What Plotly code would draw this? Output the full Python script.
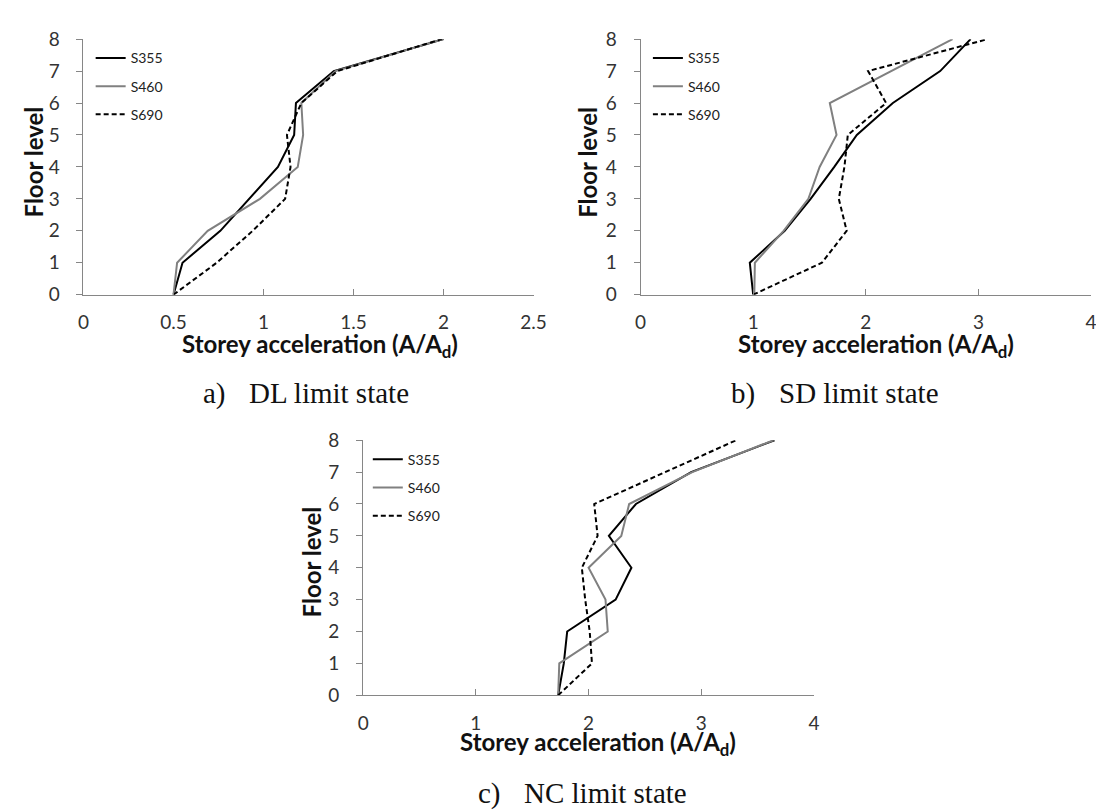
import plotly.graph_objects as go

floors = [0, 1, 2, 3, 4, 5, 6, 7, 8]
series_names = ["S355", "S460", "S690"]

# a) DL limit state
s355_dl = [0.50, 0.55, 0.76, 0.92, 1.08, 1.17, 1.18, 1.39, 2.00]
s460_dl = [0.50, 0.52, 0.69, 0.98, 1.19, 1.22, 1.21, 1.40, 2.00]
s690_dl = [0.50, 0.74, 0.94, 1.12, 1.15, 1.13, 1.21, 1.41, 1.99]
# b) SD limit state
s355_sd = [1.00, 0.97, 1.28, 1.51, 1.72, 1.92, 2.24, 2.66, 2.93]
s460_sd = [1.01, 1.015, 1.27, 1.49, 1.59, 1.74, 1.68, 2.22, 2.77]
s690_sd = [1.00, 1.61, 1.83, 1.76, 1.81, 1.84, 2.18, 2.02, 3.08]
# c) NC limit state
s355_nc = [1.73, 1.78, 1.81, 2.24, 2.38, 2.18, 2.42, 2.91, 3.65]
s460_nc = [1.73, 1.74, 2.17, 2.15, 2.00, 2.29, 2.36, 2.92, 3.64]
s690_nc = [1.73, 2.03, 2.01, 1.97, 1.94, 2.08, 2.05, 2.68, 3.31]

captions = [("a)", "DL limit state"), ("b)", "SD limit state"), ("c)", "NC limit state")]
x_title = "<b>Storey acceleration (A/A<sub>d</sub>)</b>"
y_title = "<b>Floor level</b>"

W, H = 1104, 811
def px(x): return x / W
def py(y): return 1 - y / H

styles = [dict(color="#000000", width=2),
          dict(color="#808080", width=2),
          dict(color="#000000", width=2, dash="5px,3px")]

panels = [
    dict(data=[s355_dl, s460_dl, s690_dl], xr=[0, 2.5], dt=0.5,
         dom_x=[px(70.7), px(528.7)], dom_y=[py(282.7), py(19.7)]),
    dict(data=[s355_sd, s460_sd, s690_sd], xr=[0, 4], dt=1,
         dom_x=[px(637.5), px(1096)], dom_y=[py(282.7), py(19.7)]),
    dict(data=[s355_nc, s460_nc, s690_nc], xr=[0, 4], dt=1,
         dom_x=[px(355.3), px(814)], dom_y=[py(695), py(432.5)]),
]

fig = go.Figure()
sans = "Lato"
axis_color = "#868686"
tick_col = "#333333"
layout = dict(width=W, height=H, margin=dict(l=0, r=0, t=0, b=0),
              paper_bgcolor="white", plot_bgcolor="white", showlegend=True,
              font=dict(family=sans, color="#222222"))

legend_pos = [(78, 23), (645, 23), (360, 436)]
annotations = []
xt_pos = [(311, 335), (877, 335), (594, 745)]
yt_pos = [(20, 146), (584, 146), (302.5, 558)]
cap_pos = [(190, 236.7, 384), (728, 776.7, 384), (470, 516.7, 796)]

for i, p in enumerate(panels):
    suf = "" if i == 0 else str(i + 1)
    leg = "legend" if i == 0 else f"legend{i + 1}"
    for j, (name, vals) in enumerate(zip(series_names, p["data"])):
        fig.add_trace(go.Scatter(
            x=vals, y=floors, mode="lines", name=name, line=styles[j],
            xaxis="x" + suf, yaxis="y" + suf, legend=leg,
            legendgroup=f"{leg}_{name}", cliponaxis=False, showlegend=True))
    layout["xaxis" + suf] = dict(
        domain=p["dom_x"], range=p["xr"], dtick=p["dt"], tick0=0,
        anchor="y" + suf, showgrid=False, zeroline=False, showline=True,
        linecolor=axis_color, linewidth=1, ticks="inside", ticklen=6,
        tickcolor=axis_color, tickfont=dict(family=sans, size=19, color=tick_col),
        ticklabelstandoff=11, fixedrange=True)
    layout["yaxis" + suf] = dict(
        domain=p["dom_y"], range=[0, 8], dtick=1, tick0=0,
        anchor="x" + suf, showgrid=False, zeroline=False, showline=True,
        linecolor=axis_color, linewidth=1, ticks="outside", ticklen=6,
        tickcolor=axis_color, tickfont=dict(family=sans, size=19, color=tick_col),
        ticklabelstandoff=13, fixedrange=True)
    lx, ly = legend_pos[i]
    layout[leg] = dict(x=px(lx), y=py(ly), xanchor="left", yanchor="top",
                       xref="paper", yref="paper",
                       bgcolor="rgba(0,0,0,0)", borderwidth=0,
                       font=dict(family=sans, size=14, color="#222222"),
                       traceorder="grouped", tracegroupgap=7, itemwidth=30)
    xx, xy = xt_pos[i]
    annotations.append(dict(text=x_title, x=px(xx), y=py(xy), xref="paper", yref="paper",
                            showarrow=False, xanchor="center", yanchor="middle",
                            font=dict(family=sans, size=24, color="#111111")))
    yx, yy = yt_pos[i]
    annotations.append(dict(text=y_title, x=px(yx), y=py(yy), xref="paper", yref="paper",
                            showarrow=False, xanchor="center", yanchor="middle", textangle=-90,
                            font=dict(family=sans, size=24, color="#111111")))
    lab, txt = captions[i]
    cx1, cx2, cy = cap_pos[i]
    annotations.append(dict(text=lab, x=px(cx1), y=py(cy), xref="paper", yref="paper",
                            showarrow=False, xanchor="left", yanchor="middle",
                            font=dict(family="Liberation Serif", size=29, color="#111111")))
    annotations.append(dict(text=txt, x=px(cx2), y=py(cy), xref="paper", yref="paper",
                            showarrow=False, xanchor="left", yanchor="middle",
                            font=dict(family="Liberation Serif", size=29, color="#111111")))

layout["annotations"] = annotations
fig.update_layout(**layout)
fig.write_html("out.html")
